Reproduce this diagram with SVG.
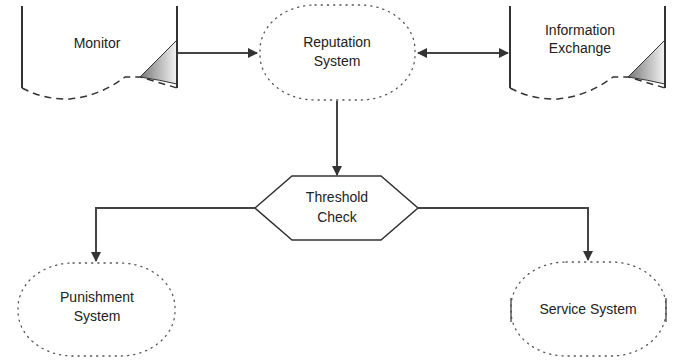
<svg xmlns="http://www.w3.org/2000/svg" width="680" height="360" viewBox="0 0 680 360">
<defs>
<linearGradient id="fold" x1="0" y1="0" x2="1" y2="0">
<stop offset="0" stop-color="#777777"/>
<stop offset="1" stop-color="#f4f4f4"/>
</linearGradient>
<marker id="arr" viewBox="0 0 10 10" refX="9" refY="5" markerWidth="5" markerHeight="5" orient="auto-start-reverse">
<path d="M0,0 L10,5 L0,10 z" fill="#333"/>
</marker>
<style>
text{font-family:"Liberation Sans",Arial,sans-serif;font-size:14px;fill:#222;text-anchor:middle}
.side{fill:none;stroke:#333;stroke-width:2}
.wave{fill:none;stroke:#333;stroke-width:1.5;stroke-dasharray:7 5}
.dot{fill:#fff;stroke:#555;stroke-width:1.3;stroke-dasharray:1.2 5;stroke-linecap:round}
.conn{fill:none;stroke:#444;stroke-width:2}
</style>
</defs>
<g id="monitor">
<path d="M140,77 L177,40 L177,84 Q160,80 140,77 z" fill="url(#fold)" stroke="#333" stroke-width="1"/>
<path class="side" d="M22,6 L22,88 M177,6 L177,88"/>
<path class="wave" d="M22,88 Q45,100 70,99 Q100,96 125,77 L140,77 L177,88"/>
<text x="97" y="48">Monitor</text>
</g>
<g id="reputation">
<rect class="dot" x="260" y="5" width="155" height="95" rx="55" ry="45"/>
<text x="337" y="47">Reputation</text>
<text x="337" y="66">System</text>
</g>
<g id="info">
<path d="M628,77 L665,40 L665,84 Q648,80 628,77 z" fill="url(#fold)" stroke="#333" stroke-width="1"/>
<path class="side" d="M510,6 L510,88 M665,6 L665,88"/>
<path class="wave" d="M510,88 Q533,100 558,99 Q588,96 613,77 L628,77 L665,88"/>
<text x="580" y="35">Information</text>
<text x="580" y="53">Exchange</text>
</g>
<g id="threshold">
<polygon points="255,208 292,176 381,176 418,208 381,240 292,240" fill="#fff" stroke="#333" stroke-width="1.5"/>
<text x="337" y="202">Threshold</text>
<text x="337" y="222">Check</text>
</g>
<g id="punishment">
<rect class="dot" x="18" y="263" width="157" height="93" rx="55" ry="45"/>
<text x="97" y="302">Punishment</text>
<text x="97" y="321">System</text>
</g>
<g id="service">
<rect class="dot" x="511" y="262" width="155" height="94" rx="55" ry="45"/>
<path d="M511,298 L511,322 M666,298 L666,322" stroke="#444" stroke-width="1.3"/>
<text x="588" y="314">Service System</text>
</g>
<g id="connectors">
<path class="conn" d="M178,53 L257,53" marker-end="url(#arr)"/>
<path class="conn" d="M418,53 L508,53" marker-start="url(#arr)" marker-end="url(#arr)"/>
<path class="conn" d="M337,101 L337,175" stroke-width="2.5" marker-end="url(#arr)"/>
<path class="conn" d="M255,208 L96,208 L96,261" marker-end="url(#arr)"/>
<path class="conn" d="M418,208 L588,208 L588,260" marker-end="url(#arr)"/>
</g>
</svg>
